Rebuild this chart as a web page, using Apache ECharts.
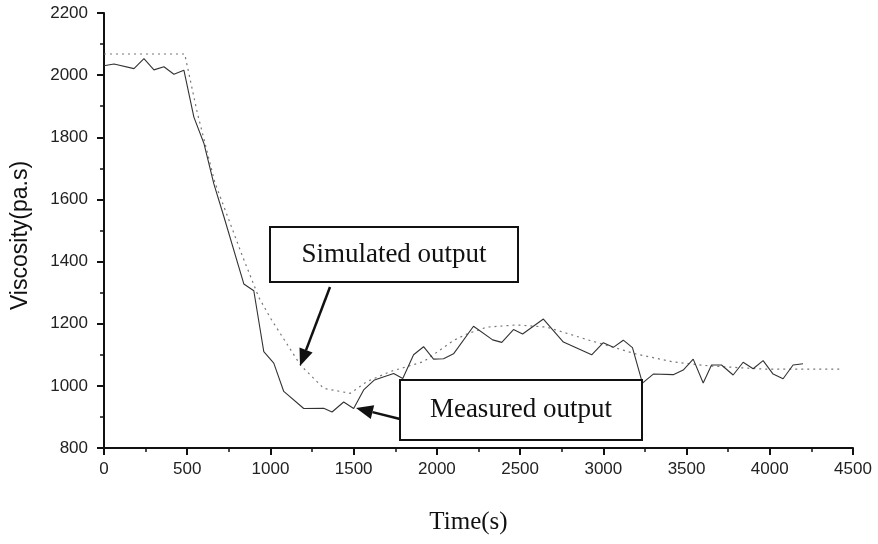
<!DOCTYPE html>
<html>
<head>
<meta charset="utf-8">
<script src="https://cdn.jsdelivr.net/npm/echarts@6/dist/echarts.min.js"></script>
<style>
  html, body { margin: 0; padding: 0; background: #fff; }
  #chart { width: 878px; height: 544px; }
</style>
</head>
<body>
<div id="chart"></div>
<script>
// Measured viscosity, [time (s), viscosity (pa.s)]
const measuredTime = [0, 60, 180, 240, 300, 360, 420, 480, 540, 600, 660, 720, 840, 900, 960, 1020, 1080, 1200, 1320, 1370, 1440, 1500, 1560, 1625, 1740, 1795, 1860, 1920, 1980, 2040, 2100, 2220, 2335, 2390, 2460, 2515, 2640, 2760, 2930, 3000, 3060, 3120, 3175, 3235, 3300, 3420, 3480, 3540, 3600, 3650, 3710, 3780, 3840, 3900, 3960, 4020, 4080, 4140, 4200];
const measuredVisc = [2030, 2036, 2021, 2053, 2017, 2027, 2003, 2016, 1865, 1781, 1650, 1545, 1328, 1306, 1110, 1073, 982, 927, 928, 916, 948, 927, 987, 1019, 1040, 1024, 1100, 1126, 1086, 1087, 1103, 1192, 1148, 1140, 1181, 1167, 1215, 1141, 1100, 1139, 1124, 1147, 1123, 1009, 1038, 1036, 1051, 1086, 1009, 1067, 1067, 1035, 1076, 1055, 1081, 1038, 1023, 1067, 1071];

// Simulated model output
const simulatedTime = [0, 485, 560, 667, 830, 930, 1000, 1180, 1320, 1480, 1580, 1720, 1920, 2100, 2180, 2300, 2480, 2660, 2920, 3100, 3200, 3420, 3640, 3960, 4440];
const simulatedVisc = [2068, 2068, 1880, 1653, 1420, 1285, 1218, 1067, 992, 976, 1014, 1046, 1078, 1146, 1167, 1189, 1196, 1189, 1146, 1118, 1102, 1077, 1064, 1054, 1054];

const xTicks = { min: 0, max: 4500, interval: 500 };
const yTicks = { min: 800, max: 2200, interval: 200 };

const zip = (xs, ys) => xs.map((x, i) => [x, ys[i]]);

const chart = echarts.init(document.getElementById('chart'), null, { renderer: 'canvas' });

const axisFont = { fontFamily: 'Liberation Sans', fontSize: 17, color: '#222', formatter: v => String(v) };

// Arrowhead polygon: tip at (tx,ty), coming from (fx,fy)
function arrowHead(fx, fy, tx, ty, len, half) {
  const dx = tx - fx, dy = ty - fy;
  const d = Math.hypot(dx, dy);
  const ux = dx / d, uy = dy / d;
  const bx = tx - ux * len, by = ty - uy * len;
  return [[tx, ty], [bx - uy * half, by + ux * half], [bx + uy * half, by - ux * half]];
}

function arrow(fx, fy, tx, ty) {
  const head = arrowHead(fx, fy, tx, ty, 17, 7);
  const mx = (head[1][0] + head[2][0]) / 2, my = (head[1][1] + head[2][1]) / 2;
  return [
    { type: 'line', z: 100, shape: { x1: fx, y1: fy, x2: mx, y2: my }, style: { stroke: '#111', lineWidth: 2.5 } },
    { type: 'polygon', z: 100, shape: { points: head }, style: { fill: '#111' } }
  ];
}

function labelBox(x, y, w, h, text) {
  return [
    { type: 'rect', z: 90, shape: { x: x, y: y, width: w, height: h }, style: { fill: '#fff', stroke: '#111', lineWidth: 2 } },
    { type: 'text', z: 95, x: x + w / 2, y: y + h / 2,
      style: { text: text, fontFamily: 'Liberation Serif', fontSize: 27, fill: '#111', align: 'center', verticalAlign: 'middle' } }
  ];
}

chart.setOption({
  backgroundColor: '#fff',
  animation: false,
  grid: { left: 104, right: 25, top: 13, bottom: 96 },
  xAxis: {
    type: 'value',
    min: xTicks.min, max: xTicks.max, interval: xTicks.interval,
    name: 'Time(s)',
    nameLocation: 'middle',
    nameGap: 62,
    nameTextStyle: { fontFamily: 'Liberation Serif', fontSize: 25, color: '#111', padding: [0, 20, 0, 0] },
    axisLine: { show: true, lineStyle: { color: '#111', width: 2 } },
    axisTick: { show: true, inside: false, length: 7, lineStyle: { color: '#111', width: 2 } },
    minorTick: { show: true, splitNumber: 2, length: 4, lineStyle: { color: '#111', width: 1.5 } },
    axisLabel: Object.assign({ margin: 13 }, axisFont),
    splitLine: { show: false }
  },
  yAxis: {
    type: 'value',
    min: yTicks.min, max: yTicks.max, interval: yTicks.interval,
    name: 'Viscosity(pa.s)',
    nameLocation: 'middle',
    nameGap: 72,
    nameRotate: 90,
    nameTextStyle: { fontFamily: 'Liberation Sans', fontSize: 23, color: '#111', padding: [0, 10, 0, 0] },
    axisLine: { show: true, lineStyle: { color: '#111', width: 2 } },
    axisTick: { show: true, inside: false, length: 7, lineStyle: { color: '#111', width: 2 } },
    minorTick: { show: true, splitNumber: 2, length: 4, lineStyle: { color: '#111', width: 1.5 } },
    axisLabel: Object.assign({ margin: 16 }, axisFont),
    splitLine: { show: false }
  },
  series: [
    {
      name: 'Simulated output',
      type: 'line',
      data: zip(simulatedTime, simulatedVisc),
      showSymbol: false,
      lineStyle: { color: '#777', width: 1.2, type: [2, 4] },
      z: 2
    },
    {
      name: 'Measured output',
      type: 'line',
      data: zip(measuredTime, measuredVisc),
      showSymbol: false,
      lineStyle: { color: '#333', width: 1.1 },
      z: 3
    }
  ],
  graphic: [].concat(
    labelBox(270, 227, 248, 55, 'Simulated output'),
    labelBox(400, 380, 242, 60, 'Measured output'),
    arrow(330, 287, 300, 366),
    arrow(400, 419, 356, 408)
  )
});
</script>
</body>
</html>
